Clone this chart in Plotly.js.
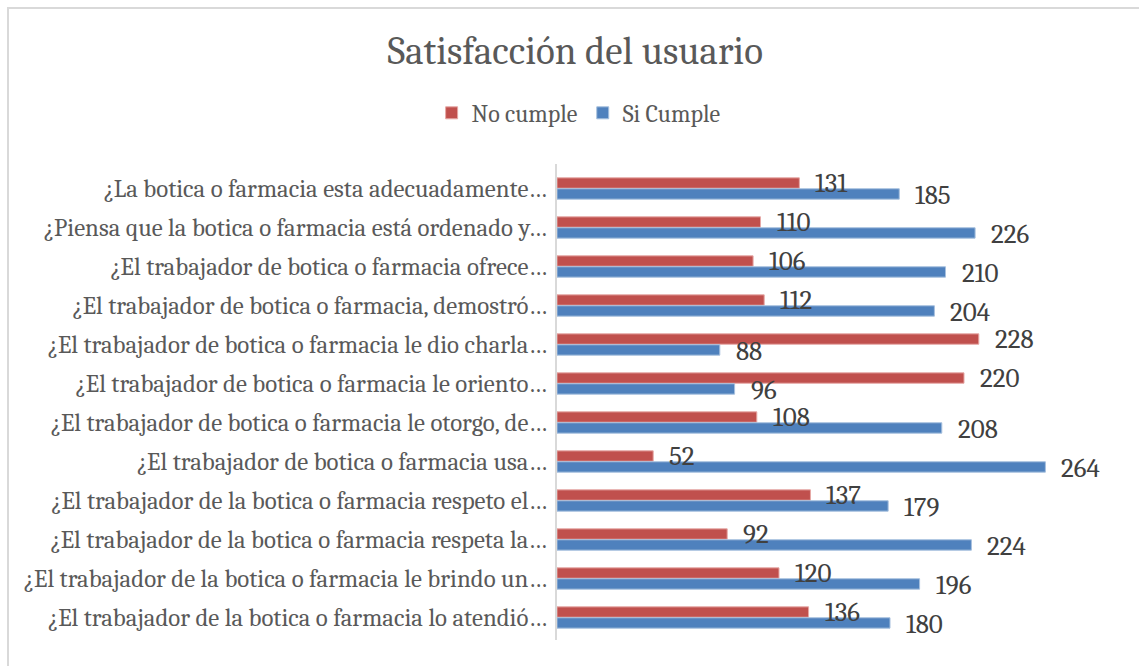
<!DOCTYPE html>
<html>
<head>
<meta charset="utf-8">
<script src="https://cdn.plot.ly/plotly-3.0.1.min.js"></script>
<style>
html,body{margin:0;padding:0;background:#fff;overflow:hidden;}
#chart{width:1139px;height:666px;position:absolute;left:0;top:0;}
#frame{position:absolute;left:7px;top:7px;width:1200px;height:700px;border-left:2px solid #d9d9d9;border-top:2px solid #d9d9d9;pointer-events:none;}
</style>
</head>
<body>
<div id="chart"></div>
<div id="frame"></div>
<script>
const categories = [
  "¿La botica o farmacia esta adecuadamente…",
  "¿Piensa que la botica o farmacia está ordenado y…",
  "¿El trabajador de botica o farmacia ofrece…",
  "¿El trabajador de botica o farmacia, demostró…",
  "¿El trabajador de botica o farmacia le dio charla…",
  "¿El trabajador de botica o farmacia le oriento…",
  "¿El trabajador de botica o farmacia le otorgo, de…",
  "¿El trabajador de botica o farmacia usa…",
  "¿El trabajador de la botica o farmacia respeto el…",
  "¿El trabajador de la botica o farmacia respeta la…",
  "¿El trabajador de la botica o farmacia le brindo un…",
  "¿El trabajador de la botica o farmacia lo atendió…"
];
const noCumple = [131, 110, 106, 112, 228, 220, 108, 52, 137, 92, 120, 136];
const siCumple = [185, 226, 210, 204, 88, 96, 208, 264, 179, 224, 196, 180];

const FONT = "Cambria, Caladea, 'Liberation Serif', serif";

function barTrace(name, vals, color, lineColor) {
  return {
    type: 'bar', orientation: 'h', name: name,
    y: categories, x: vals,
    marker: {color: color, line: {color: lineColor, width: 1}},
    hoverinfo: 'x'
  };
}

const traces = [
  barTrace('No cumple', noCumple, '#c0504d', '#e6a8a6'),
  barTrace('Si Cumple', siCumple, '#4f81bd', '#a7c0de')
];

// value labels drawn on top of all bars, positioned through the axes
function labels(vals, yshift) {
  return vals.map((v, i) => ({
    x: v, y: categories[i], xref: 'x', yref: 'y',
    text: String(v), showarrow: false, xanchor: 'left', yanchor: 'middle',
    xshift: 14, yshift: yshift,
    font: {family: FONT, size: 27, color: '#404040'}
  }));
}
const annotations = labels(noCumple, 5).concat(labels(siCumple, -7));

const layout = {
  width: 1139, height: 666,
  paper_bgcolor: '#ffffff', plot_bgcolor: '#ffffff',
  font: {family: FONT, color: '#595959'},
  margin: {l: 557, r: 27, t: 164, b: 26, pad: 0},
  title: {text: 'Satisfacción del usuario', font: {family: FONT, size: 39, color: '#595959'},
    xref: 'container', x: 0.505, xanchor: 'center', yref: 'container', y: 0.925, yanchor: 'middle'},
  showlegend: true,
  legend: {orientation: 'h', xref: 'container', x: 0.508, xanchor: 'center', yref: 'container', y: 0.83, yanchor: 'middle',
    font: {family: FONT, size: 24, color: '#595959'}, traceorder: 'normal', itemwidth: 30},
  barmode: 'group', bargap: 0.44, bargroupgap: 0.05,
  annotations: annotations,
  xaxis: {range: [0, 300], visible: true, showticklabels: false, showgrid: false, zeroline: false, showline: false, ticks: ''},
  yaxis: {autorange: 'reversed', showline: true, linecolor: '#d9d9d9', linewidth: 2, ticks: '',
    tickfont: {family: FONT, size: 24.8, color: '#595959'}, ticklabelstandoff: 3, automargin: false}
};

Plotly.newPlot('chart', traces, layout, {displayModeBar: false, staticPlot: true});
</script>
</body>
</html>
